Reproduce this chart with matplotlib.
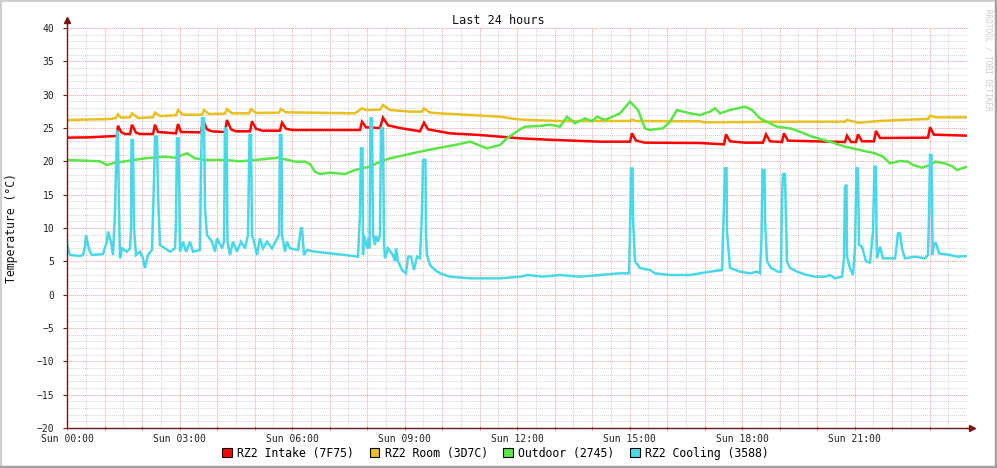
import matplotlib
matplotlib.use("Agg")
import matplotlib.pyplot as plt
from matplotlib.patches import Patch, Rectangle
from matplotlib.ticker import MultipleLocator

# time in minutes since Sun 00:00, values in deg C
intake_t = [0, 36.8, 76.8, 80, 81.6, 86.4, 92.8, 100.8, 104, 110.4, 116.8, 137.6, 140.8, 145.6,
            174.4, 177.6, 182.4, 214.4, 217.6, 224, 232, 252.8, 256, 262.4, 270.4, 292.8, 296,
            302.4, 312, 340.8, 344, 350.4, 360, 468.8, 472, 478.4, 500.8, 505.6, 513.6, 532.8,
            564.8, 571.2, 577.6, 612.8, 660.8, 692.8, 724.8, 780.8, 852.8, 900.8, 904, 910.4,
            924.8, 1012.8, 1051.2, 1054.4, 1060.8, 1084.8, 1113.6, 1118.4, 1124.8, 1144, 1147.2,
            1153.6, 1220.8, 1244.8, 1248, 1254.4, 1262.4, 1265.6, 1272, 1291.2, 1294.4, 1300.8,
            1377.6, 1380.8, 1387.2, 1440]
intake_v = [23.55, 23.6, 23.8, 23.8, 25.35, 24.4, 24.1, 24.1, 25.5, 24.3, 24.1, 24.1, 25.5, 24.4,
            24.2, 25.6, 24.4, 24.35, 26.2, 24.8, 24.5, 24.4, 26.2, 24.8, 24.5, 24.5, 26.0,
            24.9, 24.6, 24.6, 25.8, 24.9, 24.7, 24.7, 25.95, 25.1, 25.0, 26.55, 25.4, 25.0,
            24.5, 25.8, 24.8, 24.2, 23.95, 23.7, 23.45, 23.2, 22.95, 22.95, 24.2, 23.1,
            22.8, 22.75, 22.55, 24.05, 23.0, 22.8, 22.8, 24.05, 23.0, 22.9, 24.2,
            23.1, 22.95, 22.9, 23.85, 22.9, 22.9, 24.05, 23.0, 23.0, 24.55, 23.5,
            23.55, 25.1, 24.0, 23.85]

room_t = [0, 68.8, 78.4, 81.6, 86.4, 100.8, 104, 113.6, 137.6, 140.8, 148.8, 174.4, 177.6, 185.6,
          216, 219.2, 227.2, 252.8, 256, 264, 291.2, 294.4, 302.4, 339.2, 342.4, 350.4, 460.8,
          472, 478.4, 500.8, 505.6, 516.8, 548.8, 568, 571.2, 580.8, 596.8, 644.8, 692.8, 716.8,
          737.6, 788.8, 900.8, 904, 910.4, 1012.8, 1020.8, 1084.8, 1172.8, 1244.8, 1248, 1265.6,
          1300.8, 1332.8, 1364.8, 1377.6, 1380.8, 1390.4, 1440]
room_v = [26.2, 26.35, 26.5, 27.05, 26.55, 26.6, 27.2, 26.5, 26.6, 27.3, 26.8, 26.9, 27.7, 27.0,
          27.0, 27.7, 27.1, 27.15, 27.85, 27.2, 27.2, 27.85, 27.25, 27.3, 27.85, 27.35, 27.2,
          27.95, 27.7, 27.75, 28.45, 27.7, 27.45, 27.45, 27.95, 27.3, 27.2, 26.95, 26.7, 26.35,
          26.2, 26.05, 26.05, 26.25, 26.05, 26.0, 25.85, 25.9, 25.95, 25.95, 26.2, 25.8,
          26.05, 26.2, 26.3, 26.35, 26.85, 26.6, 26.6]

outdoor_t = [0, 28.8, 52.8, 64, 76.8, 92.8, 124.8, 156.8, 172.8, 192, 204.8, 220.8, 252.8, 276.8,
             300.8, 338.4, 364.8, 380.8, 388.8, 396.8, 404.8, 420.8, 444.8, 460.8, 484.8, 500.8,
             516.8, 540.8, 564.8, 596.8, 620.8, 644.8, 672, 692.8, 704, 724.8, 732.8, 756.8,
             772.8, 788.8, 800, 812.8, 828.8, 840, 848, 860.8, 884.8, 900.8, 913.6, 924.8, 932.8,
             953.6, 964.8, 976, 996.8, 1012.8, 1028.8, 1036.8, 1044.8, 1060.8, 1084.8, 1096,
             1108.8, 1124.8, 1136, 1156.8, 1172.8, 1192, 1220.8, 1244.8, 1268.8, 1292.8, 1305.6,
             1316.8, 1332.8, 1345.6, 1353.6, 1368, 1380.8, 1388.8, 1404.8, 1417.6, 1424, 1440]
outdoor_v = [20.2, 20.1, 20.0, 19.45, 19.8, 20.0, 20.45, 20.7, 20.55, 21.2, 20.45, 20.2, 20.2, 20.0,
             20.2, 20.55, 19.95, 19.95, 19.6, 18.45, 18.1, 18.3, 18.1, 18.7, 19.2, 19.95,
             20.45, 20.95, 21.45, 22.05, 22.45, 22.95, 21.95, 22.45, 23.45, 24.8, 25.2, 25.3,
             25.5, 25.2, 26.7, 25.7, 26.45, 26.0, 26.7, 26.2, 27.2, 28.95, 27.7, 24.95, 24.7,
             24.95, 25.95, 27.7, 27.2, 26.95, 27.45, 27.95, 27.2, 27.7, 28.2, 27.7,
             26.45, 25.7, 25.2, 24.95, 24.45, 23.7, 22.95, 22.2, 21.7, 21.2, 20.7,
             19.7, 20.05, 19.95, 19.45, 19.05, 19.45, 19.95, 19.7, 19.2, 18.7, 19.2]

cooling_t = [0, 4.8, 20.8, 25.6, 28.8, 30.4, 33.6, 36.8, 40, 57.6, 64, 65.6, 70.4, 73.6, 76.8, 78.4,
             80, 81.6, 83.2, 84.8, 88, 96, 100.8, 102.4, 103.2, 105.6, 107.2, 110.4, 116.8, 121.6,
             124.8, 129.6, 136, 139.2, 140.8, 144, 145.6, 148.8, 156.8, 164.8, 172.8, 174.4, 176,
             178.4, 180.8, 185.6, 190.4, 196.8, 201.6, 212.8, 214.4, 216, 219.2, 220.8, 224, 232,
             236.8, 240, 248, 251.2, 252.8, 255.2, 256.8, 260.8, 265.6, 272, 278.4, 284.8, 289.6,
             292, 294.4, 296, 299.2, 304, 308.8, 313.6, 320, 328, 339.2, 340.8, 343.2, 344, 348.8,
             352, 356.8, 369.6, 374.4, 376, 379.2, 384, 396.8, 420.8, 444.8, 465.6, 468.8, 470.4,
             472.8, 473.6, 475.2, 480, 482.4, 484, 485.6, 488, 489.6, 492.8, 494.4, 497.6, 500.8,
             502.4, 505.6, 507.2, 508.8, 513.6, 521.6, 524.8, 526.4, 529.6, 536, 542.4, 545.6,
             550.4, 555.2, 560, 564.8, 568, 569.6, 573.6, 574.4, 576, 580.8, 588.8, 596.8, 612.8,
             644.8, 692.8, 724.8, 737.6, 761.6, 788.8, 820.8, 852.8, 884.8, 899.2, 900.8, 902.4,
             904.8, 905.6, 908.8, 916.8, 932.8, 940.8, 964.8, 996.8, 1012.8, 1028.8, 1048, 1050.4,
             1052.8, 1055.2, 1056, 1060.8, 1076.8, 1092.8, 1104, 1108.8, 1111.2, 1112.8, 1116,
             1116.8, 1120, 1126.4, 1137.6, 1142.4, 1144, 1145.6, 1148.8, 1149.6, 1152, 1156.8,
             1168, 1184, 1196.8, 1212.8, 1220.8, 1228.8, 1240, 1243.2, 1244.8, 1247.2, 1248,
             1252.8, 1257.6, 1260.8, 1263.2, 1265.6, 1267.2, 1272, 1278.4, 1284.8, 1289.6, 1292,
             1294.4, 1295.2, 1296, 1300.8, 1305.6, 1324.8, 1326.4, 1329.6, 1332.8, 1336, 1340.8,
             1356.8, 1372.8, 1377.6, 1379.2, 1380.8, 1383.2, 1384, 1384.8, 1387.2, 1390.4, 1395.2,
             1412.8, 1424, 1440]
cooling_v = [7.45, 5.95, 5.8, 5.95, 7.2, 8.95, 7.5, 6.45, 5.95, 6.1, 8.0, 9.45, 7.95, 5.95, 12.45, 18.45,
             24.45, 24.45, 12.7, 5.45, 6.95, 6.45, 6.95, 9.95, 23.2, 23.2, 9.95, 5.95, 6.45, 5.45,
             4.0, 5.95, 6.7, 17.2, 23.7, 23.7, 15.0, 7.45, 6.95, 6.45, 6.95, 10.95, 23.45,
             23.45, 6.45, 7.95, 6.45, 7.95, 6.45, 6.7, 18.95, 26.45, 26.45, 12.95, 8.95, 7.95,
             6.45, 8.45, 6.95, 7.95, 24.95, 24.95, 7.95, 5.95, 7.95, 6.45, 7.95, 6.95, 8.95,
             23.95, 23.95, 8.95, 7.95, 5.95, 8.45, 6.95, 7.95, 6.95, 8.95, 23.95, 23.95, 8.95, 6.45,
             7.95, 6.95, 6.7, 9.95, 9.95, 5.95, 6.7, 6.45, 6.2, 5.95, 5.7, 11.95, 21.95,
             21.95, 5.95, 8.95, 6.95, 8.45, 6.95, 26.45, 26.45, 8.95, 7.45, 8.8, 7.95, 8.95,
             24.95, 24.95, 7.95, 5.45, 6.95, 5.95, 5.0, 6.95, 5.0, 3.7, 3.2, 5.7,
             5.7, 3.7, 5.7, 5.45, 12.45, 20.2, 20.2, 8.7, 5.95, 4.45, 3.7, 3.2, 2.7,
             2.45, 2.45, 2.7, 2.95, 2.7, 2.95, 2.7, 2.95, 3.2, 3.2, 8.95, 18.95,
             18.95, 11.45, 5.0, 4.0, 3.7, 3.2, 2.95, 2.95, 3.2, 3.45, 3.7, 10.95,
             18.95, 18.95, 9.45, 4.0, 3.45, 3.2, 3.45, 3.2, 8.45, 18.7, 18.7,
             11.45, 5.0, 4.0, 3.45, 3.45, 14.45, 18.1, 18.1, 14.45, 5.0, 4.0,
             3.45, 2.95, 2.7, 2.7, 2.95, 2.45, 2.7, 5.45, 16.2, 16.5, 5.7,
             4.0, 2.95, 6.95, 18.95, 18.95, 7.45, 7.2, 5.0, 4.8, 9.45, 19.2,
             19.2, 9.45, 5.45, 7.2, 5.45, 5.45, 6.45, 9.2, 9.2, 6.95, 5.45,
             5.7, 5.45, 5.95, 11.45, 20.95, 20.95, 15.5, 5.95, 7.7, 7.7, 6.2,
             5.95, 5.7, 5.8]

series_names = ["RZ2 Intake (7F75)", "RZ2 Room (3D7C)", "Outdoor (2745)", "RZ2 Cooling (3588)"]
series_colors = ["#FF0000", "#E8C020", "#5AE646", "#48D8E8"]
hour_labels = ["Sun %02d:00" % h if h % 3 == 0 else "" for h in range(0, 24)]

mono = "DejaVu Sans Mono"
axis_col = "#6a1c1c"

fig = plt.figure(figsize=(9.97, 4.68), dpi=100)
fig.patch.set_facecolor("white")
W, H = 997.0, 468.0
ax = fig.add_axes([67 / W, 40 / H, 900 / W, 400 / H])

series = [(intake_t, intake_v), (room_t, room_v), (outdoor_t, outdoor_v), (cooling_t, cooling_v)]
for (t, v), c in zip(series, series_colors):
    ax.plot(t, v, color=c, lw=1.8, solid_joinstyle="miter")

ax.set_xlim(0, 1440)
ax.set_ylim(-20, 40)
ax.set_xticks(range(0, 1440, 60))
ax.set_xticklabels(hour_labels, fontsize=7, family=mono, color="#222222")
ax.xaxis.set_minor_locator(MultipleLocator(30))
ax.yaxis.set_major_locator(MultipleLocator(5))
ax.yaxis.set_minor_locator(MultipleLocator(1))
for lbl in ax.get_yticklabels():
    lbl.set_fontsize(7)
    lbl.set_family(mono)
    lbl.set_color("#222222")

ax.grid(which="minor", color="#d4d4d4", linestyle=(0, (1, 1)), lw=0.7)
ax.grid(which="major", color="#f2a0a0", linestyle=(0, (1, 1)), lw=0.7)
ax.set_axisbelow(True)
ax.tick_params(which="major", length=3, direction="inout", color="#e08080", pad=3)
ax.tick_params(axis="y", which="major", length=3, direction="out", color=axis_col, pad=6)
ax.tick_params(which="minor", length=0)

for s in ["top", "right"]:
    ax.spines[s].set_visible(False)
for s in ["left", "bottom"]:
    ax.spines[s].set_color(axis_col)
    ax.spines[s].set_linewidth(1.0)

# arrows on the axes
ax.plot([0, 0], [1, 1.02], color=axis_col, lw=1.0, transform=ax.transAxes, clip_on=False)
ax.plot([0], [1.02], marker="^", ms=4, color="#7a1010", transform=ax.transAxes, clip_on=False)
ax.plot([1, 1.006], [0, 0], color=axis_col, lw=1.0, transform=ax.transAxes, clip_on=False)
ax.plot([1.006], [0], marker=">", ms=4, color="#7a1010", transform=ax.transAxes, clip_on=False)

fig.text(0.5, 1 - 20 / H, "Last 24 hours", ha="center", va="center", fontsize=8.5, family=mono,
         color="#111111")
fig.text(11 / W, 1 - 228 / H, "Temperature (°C)", rotation=90, ha="center", va="center",
         fontsize=8.3, family=mono, color="#111111")
fig.text(988 / W, 1 - 60 / H, "RRDTOOL / TOBI OETIKER", rotation=270, ha="center", va="center",
         fontsize=5.5, family=mono, color="#cccccc")

handles = [Patch(facecolor=c, edgecolor="black", lw=0.8) for c in series_colors]
fig.legend(handles, series_names, loc="center", bbox_to_anchor=(0.497, 1 - 453 / H), ncol=4,
           frameon=False, prop={"family": mono, "size": 8.3}, handlelength=0.85,
           handleheight=0.85, handletextpad=0.45, columnspacing=1.35, borderaxespad=0)

# image frame
fig.patches.append(Rectangle((0, 0), 1, 1, transform=fig.transFigure, fill=False,
                             edgecolor="#cfcfcf", lw=3))
fig.patches.append(Rectangle((0, 0), 1, 2.5 / H, transform=fig.transFigure, color="#a0a0a0"))
fig.patches.append(Rectangle((1 - 2.5 / W, 0), 2.5 / W, 1, transform=fig.transFigure, color="#a0a0a0"))

fig.savefig("out.png", dpi=100)
